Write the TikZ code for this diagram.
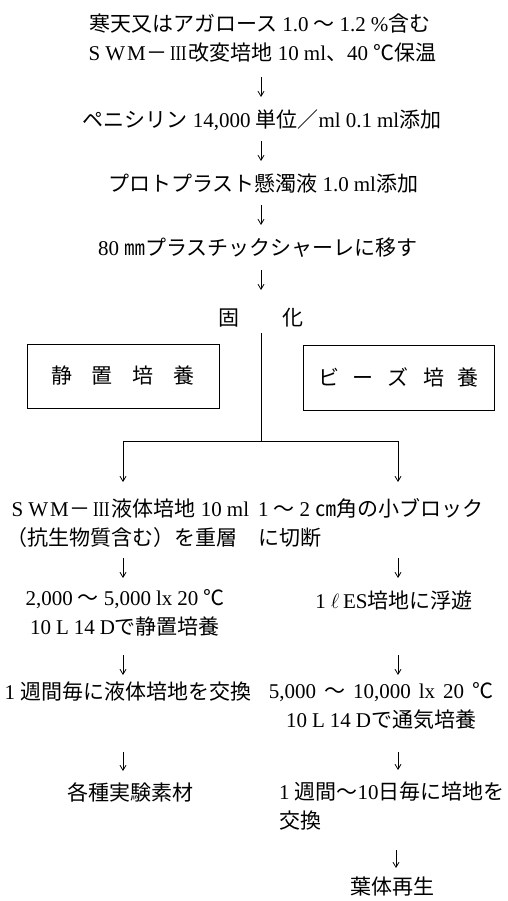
\documentclass[tikz,border=0pt]{standalone}
\usepackage{fontspec}
\usepackage{graphicx}
\setmainfont{Liberation Serif}
\newfontfamily\jp{Noto Sans CJK JP}
\usetikzlibrary{arrows.meta}
\newcommand\J[1]{{\jp #1}}
\newcommand\g{\hspace{5pt}}
\newcommand\gw{\hspace{8pt}}
\newcommand\fw[1]{\makebox[21pt]{#1}}
\newcommand\rIII{\fw{\scalebox{0.8}[1]{III}}}
\tikzset{
  txt/.style={inner sep=0pt, font=\fontsize{21}{29}\selectfont},
  arr/.style={-{Straight Barb[length=5pt,width=6pt]}, line width=0.8pt},
  ln/.style={line width=0.9pt},
  boxnode/.style={draw, line width=0.9pt, inner sep=0pt, font=\fontsize{21}{24}\selectfont},
}
\begin{document}
\begin{tikzpicture}[x=1pt,y=-1pt]
\useasboundingbox (0,0) rectangle (507,901);
% main column
\node[txt, align=center] (t1) at (260,38) {\J{寒天又はアガロース}\g 1.0\g\J{～}\g 1.2\g\%\J{含む}\\\fw{S}\fw{W}\fw{M}\J{－}\rIII\J{改変培地}\g 10\g ml\J{、}40\g\J{℃保温}};
\node[txt] (t2) at (262,120) {\J{ペニシリン}\g 14,000\g\J{単位／}ml\g 0.1\g ml\J{添加}};
\node[txt] (t3) at (263,184) {\J{プロトプラスト懸濁液}\g 1.0\g ml\J{添加}};
\node[txt] (t4) at (258,248) {80\g\J{㎜プラスチックシャーレに移す}};
\node[txt] (koka) at (261,318) {\J{固\hspace{44pt}化}};
\coordinate (a1s) at (261,77);  \coordinate (a1e) at (261,97);
\coordinate (a2s) at (261,141); \coordinate (a2e) at (261,161);
\coordinate (a3s) at (261,205); \coordinate (a3e) at (261,225);
\coordinate (a4s) at (261,270); \coordinate (a4e) at (261,290);
\draw[arr] (a1s) -- (a1e);
\draw[arr] (a2s) -- (a2e);
\draw[arr] (a3s) -- (a3e);
\draw[arr] (a4s) -- (a4e);
% boxes
\node[boxnode, minimum width=192pt, minimum height=64pt] (bl) at (123,376) {\J{静\hspace{20pt}置\hspace{20pt}培\hspace{20pt}養}};
\node[boxnode, minimum width=191pt, minimum height=65pt] (br) at (398.5,377.5) {\J{ビ\hspace{14pt}ー\hspace{14pt}ズ\hspace{14pt}培\hspace{14pt}養}};
% split
\coordinate (top) at (261,333);
\coordinate (split) at (261,441);
\coordinate (lend) at (123,482);
\coordinate (rend) at (398,482);
\draw[ln] (top) -- (split);
\draw[arr] (split) -| (lend);
\draw[arr] (split) -| (rend);
% left column
\node[txt, align=left] (l1) at (128,523) {\fw{S}\fw{W}\fw{M}\J{－}\rIII\J{液体培地}\g 10\g ml\\\J{（抗生物質含む）を重層}};
\node[txt, align=center] (l2) at (125,613) {2,000\g\J{～}\g 5,000\g lx\g 20\g\J{℃}\\10\g L\g 14\g D\J{で静置培養}};
\node[txt] (l3) at (128,692) {1\g\J{週間毎に液体培地を交換}};
\node[txt] (l4) at (130,792) {\J{各種実験素材}};
\coordinate (b1s) at (123,558); \coordinate (b1e) at (123,578);
\coordinate (b2s) at (123,655); \coordinate (b2e) at (123,675);
\coordinate (b3s) at (123,752); \coordinate (b3e) at (123,771);
\draw[arr] (b1s) -- (b1e);
\draw[arr] (b2s) -- (b2e);
\draw[arr] (b3s) -- (b3e);
% right column
\node[txt, align=left, anchor=west] (r1) at (258,523) {1\g\J{～}\g 2\g\J{㎝角の小ブロック}\\\J{に切断}};
\node[txt] (r2) at (394,600) {1\g$\ell$\,ES\J{培地に浮遊}};
\node[txt, align=center] (r3) at (381,706) {5,000\gw\J{～}\gw 10,000\gw lx\gw 20\gw\J{℃}\\10\g L\g 14\g D\J{で通気培養}};
\node[txt, align=left, anchor=west] (r4) at (279,806) {1\g\J{週間～}10\J{日毎に培地を}\\\J{交換}};
\node[txt] (r5) at (392,887) {\J{葉体再生}};
\coordinate (c1s) at (398,558); \coordinate (c1e) at (398,578);
\coordinate (c2s) at (398,655); \coordinate (c2e) at (398,675);
\coordinate (c3s) at (398,752); \coordinate (c3e) at (398,770);
\coordinate (c4s) at (396,850); \coordinate (c4e) at (396,868);
\draw[arr] (c1s) -- (c1e);
\draw[arr] (c2s) -- (c2e);
\draw[arr] (c3s) -- (c3e);
\draw[arr] (c4s) -- (c4e);
\end{tikzpicture}
\end{document}
